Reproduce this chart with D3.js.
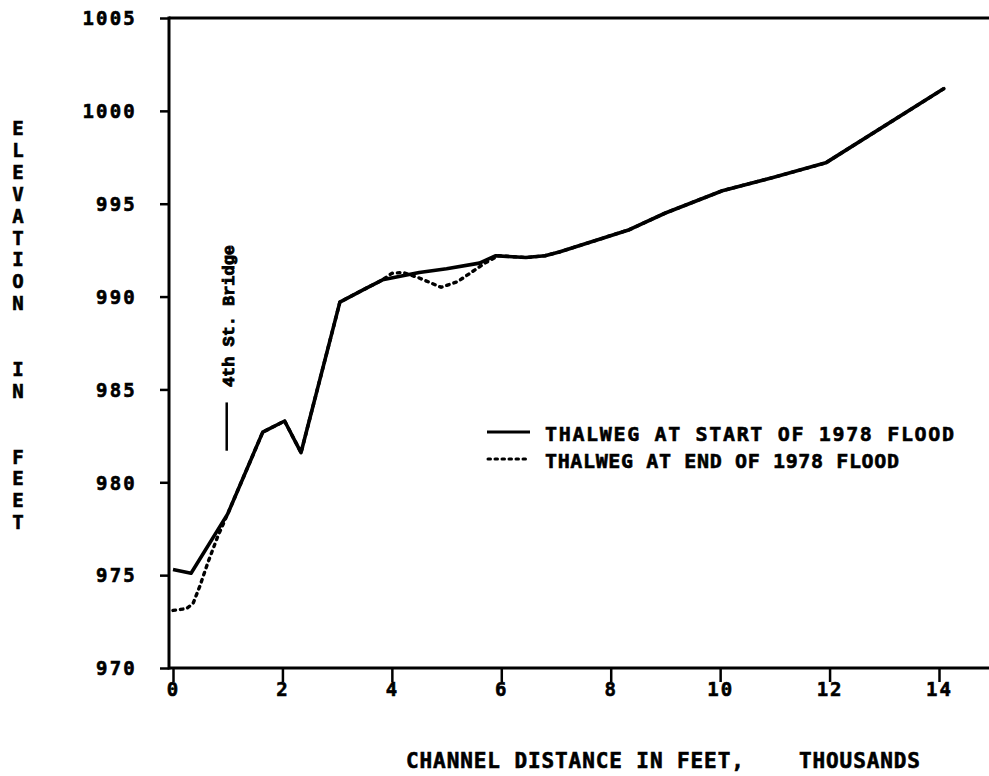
<!DOCTYPE html>
<html><head><meta charset="utf-8">
<script src="https://cdn.jsdelivr.net/npm/d3@7"></script>
<style>
html,body{margin:0;padding:0;background:#fff;}
svg{display:block;}
.plot{font-family:"DejaVu Sans Mono",monospace;font-weight:bold;fill:#000;}
.plot text{stroke:#000;stroke-width:0.6px;}
</style></head>
<body>
<svg id="chart" width="989" height="776"></svg>
<script>
// ---- data ----
const startDist = [0, 0.33, 1.0, 1.64, 2.04, 2.34, 3.05, 3.5, 3.83, 4.5, 5.0, 5.6, 5.9, 6.45, 6.8, 7.06, 8.34, 9.0, 10.04, 10.95, 11.93, 14.09];
const startElev = [975.3, 975.1, 978.3, 982.7, 983.3, 981.6, 989.7, 990.4, 990.9, 991.3, 991.5, 991.8, 992.2, 992.1, 992.2, 992.4, 993.6, 994.5, 995.7, 996.4, 997.2, 1001.2];
const endDist = [0, 0.25, 0.37, 0.49, 0.64, 0.82, 1.0, 1.64, 2.04, 2.34, 3.05, 3.5, 3.83, 4.0, 4.2, 4.5, 4.9, 5.2, 5.7, 5.95, 6.45, 6.8, 7.06, 8.34, 9.0, 10.04, 10.95, 11.93, 14.09];
const endElev = [973.1, 973.2, 973.5, 974.4, 975.7, 977.1, 978.3, 982.7, 983.3, 981.6, 989.7, 990.4, 990.9, 991.25, 991.3, 991.0, 990.5, 990.8, 991.8, 992.2, 992.1, 992.2, 992.4, 993.6, 994.5, 995.7, 996.4, 997.2, 1001.2];
const xTicks = [0, 2, 4, 6, 8, 10, 12, 14];
const yTicks = [970, 975, 980, 985, 990, 995, 1000, 1005];
const seriesNames = ["THALWEG AT START OF 1978 FLOOD", "THALWEG AT END OF 1978 FLOOD"];
const bridgeDist = 1.0;
const bridgeElevRange = [981.7, 984.3];
const bridgeLabel = "4th St. Bridge";
const xTitle = "CHANNEL DISTANCE IN FEET,    THOUSANDS";
const yTitle = "ELEVATION  IN  FEET";

// ---- layout ----
const svg = d3.select("#chart");
const x = d3.scaleLinear().domain([0, 14]).range([173, 939]);
const y = d3.scaleLinear().domain([970, 1005]).range([668, 18]);
const pLeft = 169, pRight = 989, pTop = 18, pBottom = 668;

const g = svg.append("g").attr("class", "plot");

// axes lines
g.append("line").attr("x1", pLeft).attr("x2", pRight).attr("y1", pTop).attr("y2", pTop)
  .attr("stroke", "#000").attr("stroke-width", 3);
g.append("line").attr("x1", pLeft).attr("x2", pRight).attr("y1", pBottom).attr("y2", pBottom)
  .attr("stroke", "#000").attr("stroke-width", 3);
g.append("line").attr("x1", pLeft).attr("x2", pLeft).attr("y1", pTop - 1.5).attr("y2", pBottom + 1.5)
  .attr("stroke", "#000").attr("stroke-width", 3);

// y axis ticks
const yAxis = d3.axisLeft(y).tickValues(yTicks).tickSize(9).tickPadding(0).tickFormat(d3.format("d"));
const ya = g.append("g").attr("transform", `translate(${pLeft},0)`).call(yAxis);
ya.select(".domain").remove();
ya.selectAll(".tick line").attr("stroke", "#000").attr("stroke-width", 2.5);
ya.selectAll(".tick text")
  .attr("x", -32).attr("dy", "0.36em")
  .style("font-family", "'DejaVu Sans Mono', monospace").style("font-weight", "bold")
  .style("font-size", "19px").style("letter-spacing", "2.2px").attr("fill", "#000");

// x axis ticks
const xAxis = d3.axisBottom(x).tickValues(xTicks).tickSize(14).tickPadding(0).tickFormat(d3.format("d"));
const xa = g.append("g").attr("transform", `translate(0,${pBottom})`).call(xAxis);
xa.select(".domain").remove();
xa.selectAll(".tick line").attr("stroke", "#000").attr("stroke-width", 2.5);
xa.selectAll(".tick text")
  .attr("y", 28).attr("dy", "0")
  .style("font-family", "'DejaVu Sans Mono', monospace").style("font-weight", "bold")
  .style("font-size", "19px").style("letter-spacing", "2px").attr("fill", "#000");

// lines
const line = d3.line().x(d => x(d[0])).y(d => y(d[1]));
const endData = endDist.map((d, i) => [d, endElev[i]]);
const startData = startDist.map((d, i) => [d, startElev[i]]);
g.append("path").datum(endData).attr("d", line).attr("fill", "none")
  .attr("stroke", "#000").attr("stroke-width", 3.4).attr("stroke-dasharray", "2.5,5")
  .attr("stroke-linecap", "round");
g.append("path").datum(startData).attr("d", line).attr("fill", "none")
  .attr("stroke", "#000").attr("stroke-width", 3.6).attr("stroke-linejoin", "round");

// bridge marker
g.append("line").attr("x1", x(bridgeDist) - 1).attr("x2", x(bridgeDist) - 1)
  .attr("y1", y(bridgeElevRange[0])).attr("y2", y(bridgeElevRange[1]))
  .attr("stroke", "#000").attr("stroke-width", 2.5);
g.append("text").attr("transform", `translate(${x(bridgeDist) + 6},387) rotate(-90)`)
  .style("font-family", "'Liberation Mono', 'Courier New', monospace").style("font-weight", "bold")
  .style("font-size", "17px").style("stroke-width", "0.9px")
  .attr("textLength", 142).attr("lengthAdjust", "spacing")
  .text(bridgeLabel);

// legend
const legY = [432, 459];
g.append("line").attr("x1", 487).attr("x2", 530).attr("y1", legY[0]).attr("y2", legY[0])
  .attr("stroke", "#000").attr("stroke-width", 3.2);
g.append("line").attr("x1", 488).attr("x2", 530).attr("y1", legY[1]).attr("y2", legY[1])
  .attr("stroke", "#000").attr("stroke-width", 3).attr("stroke-dasharray", "2.5,4.5").attr("stroke-linecap", "round");
g.append("text").attr("x", 545).attr("y", legY[0] + 8.5)
  .style("font-size", "20px").attr("textLength", 409).attr("lengthAdjust", "spacing")
  .text(seriesNames[0]);
g.append("text").attr("x", 545).attr("y", legY[1] + 8.5)
  .style("font-size", "20px").attr("textLength", 354).attr("lengthAdjust", "spacing")
  .text(seriesNames[1]);

// x title
g.append("text").attr("x", 406).attr("y", 768)
  .style("font-size", "21px").attr("textLength", 514).attr("lengthAdjust", "spacing")
  .attr("xml:space", "preserve").style("white-space", "pre")
  .text(xTitle);

// y title (stacked letters)
const yt = g.append("text").attr("text-anchor", "middle").style("font-size", "19px");
yTitle.split("").forEach((ch, i) => {
  if (ch !== " ") yt.append("tspan").attr("x", 18).attr("y", 135 + i * 21.9).text(ch);
});
</script>
</body></html>
